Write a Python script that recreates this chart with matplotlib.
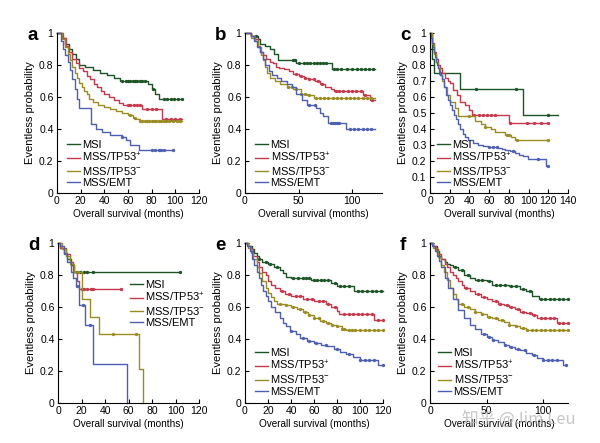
import matplotlib
matplotlib.use('Agg')
import matplotlib.pyplot as plt
from matplotlib.lines import Line2D
import numpy as np

plt.rcParams['font.family'] = ['Liberation Sans', 'DejaVu Sans']
plt.rcParams['mathtext.fontset'] = 'custom'
plt.rcParams['mathtext.rm'] = 'Liberation Sans'
plt.rcParams['mathtext.it'] = 'Liberation Sans:italic'
plt.rcParams['mathtext.bf'] = 'Liberation Sans:bold'

groups = ['MSI', 'MSS/TP53$^{+}$', 'MSS/TP53$^{-}$', 'MSS/EMT']
colors = ['#1c5426', '#c8374a', '#9b8c22', '#4c5fb4']

# --- panel a ---
a_msi_t = [0, 4, 7, 10, 13, 16, 19, 24, 30, 36, 42, 48, 53, 77, 80, 83, 86, 106]
a_msi_s = [1, 0.97, 0.93, 0.90, 0.87, 0.84, 0.80, 0.79, 0.77, 0.75, 0.74, 0.72, 0.70, 0.68, 0.65, 0.62, 0.59, 0.59]
a_msi_c = [55, 58, 60, 62, 64, 66, 68, 70, 72, 74, 81, 90, 93, 96, 99, 102, 106]
a_tp53p_t = [0, 5, 8, 10, 13, 16, 19, 22, 25, 28, 31, 34, 37, 40, 44, 48, 52, 56, 72, 89, 106]
a_tp53p_s = [1, 0.97, 0.92, 0.88, 0.84, 0.81, 0.78, 0.76, 0.73, 0.71, 0.68, 0.66, 0.64, 0.62, 0.60, 0.58, 0.565, 0.55, 0.525, 0.46, 0.46]
a_tp53p_c = [60, 62, 65, 68, 70, 76, 80, 84, 92, 96, 100, 104]
a_tp53n_t = [0, 4, 7, 9, 11, 13, 15, 17, 19, 21, 23, 25, 27, 30, 35, 40, 45, 50, 55, 60, 64, 67, 70, 106]
a_tp53n_s = [1, 0.96, 0.91, 0.87, 0.83, 0.79, 0.75, 0.72, 0.69, 0.66, 0.64, 0.62, 0.59, 0.57, 0.55, 0.54, 0.525, 0.51, 0.50, 0.485, 0.47, 0.46, 0.45, 0.45]
a_tp53n_c = [62, 66, 70, 72, 74, 76, 78, 80, 82, 84, 86, 88, 90, 92, 95, 98, 101, 104]
a_emt_t = [0, 3, 5, 7, 9, 11, 13, 15, 17, 19, 29, 33, 38, 45, 55, 58, 62, 69, 98]
a_emt_s = [1, 0.95, 0.90, 0.86, 0.82, 0.77, 0.71, 0.65, 0.59, 0.53, 0.43, 0.40, 0.38, 0.36, 0.35, 0.33, 0.30, 0.27, 0.27]
a_emt_c = [55, 80, 83, 86, 88, 90, 98]

# --- panel b ---
b_msi_t = [0, 6, 12, 14, 19, 23, 27, 31, 48, 81, 121]
b_msi_s = [1, 0.98, 0.96, 0.93, 0.92, 0.90, 0.87, 0.83, 0.815, 0.775, 0.775]
b_msi_c = [10, 45, 47, 50, 55, 58, 61, 64, 67, 70, 73, 76, 83, 86, 90, 95, 100, 105, 108, 112, 116, 120]
b_tp53p_t = [0, 6, 9, 12, 14, 17, 20, 23, 26, 29, 32, 36, 41, 45, 50, 55, 60, 65, 70, 75, 80, 83, 110, 117, 121]
b_tp53p_s = [1, 0.98, 0.96, 0.92, 0.88, 0.86, 0.84, 0.82, 0.81, 0.79, 0.78, 0.775, 0.76, 0.745, 0.73, 0.72, 0.71, 0.70, 0.68, 0.66, 0.65, 0.64, 0.61, 0.58, 0.58]
b_tp53p_c = [48, 52, 56, 60, 64, 68, 72, 85, 88, 92, 96, 100, 104, 108, 112, 119]
b_tp53n_t = [0, 6, 9, 12, 15, 17, 19, 21, 23, 28, 33, 39, 45, 52, 58, 64, 121]
b_tp53n_s = [1, 0.97, 0.95, 0.91, 0.86, 0.83, 0.79, 0.75, 0.72, 0.70, 0.68, 0.66, 0.65, 0.62, 0.61, 0.595, 0.595]
b_tp53n_c = [40, 44, 48, 52, 56, 60, 66, 70, 74, 78, 82, 86, 90, 94, 98, 102, 106, 110, 114, 118]
b_emt_t = [0, 6, 8, 11, 14, 17, 19, 22, 25, 30, 34, 39, 44, 48, 53, 58, 66, 70, 73, 78, 94, 121]
b_emt_s = [1, 0.98, 0.95, 0.91, 0.88, 0.84, 0.80, 0.76, 0.74, 0.72, 0.70, 0.68, 0.66, 0.62, 0.58, 0.55, 0.53, 0.50, 0.48, 0.44, 0.40, 0.40]
b_emt_c = [60, 65, 80, 82, 84, 86, 88, 98, 102, 106, 110, 114, 118]

# --- panel c ---
c_msi_t = [0, 2, 4, 30, 94, 130]
c_msi_s = [1, 0.84, 0.75, 0.65, 0.485, 0.485]
c_msi_c = [10, 47, 87, 120]
c_tp53p_t = [0, 2, 4, 6, 8, 10, 12, 15, 18, 20, 23, 27, 30, 35, 40, 43, 80, 120]
c_tp53p_s = [1, 0.94, 0.88, 0.84, 0.80, 0.78, 0.75, 0.72, 0.70, 0.69, 0.645, 0.615, 0.57, 0.55, 0.52, 0.49, 0.44, 0.44]
c_tp53p_c = [45, 50, 54, 58, 62, 66, 81, 98, 105, 113, 120]
c_tp53n_t = [0, 2, 4, 6, 8, 10, 12, 14, 17, 20, 25, 28, 46, 52, 56, 62, 66, 76, 82, 86, 120]
c_tp53n_s = [1, 0.93, 0.87, 0.82, 0.78, 0.74, 0.70, 0.66, 0.61, 0.57, 0.53, 0.48, 0.45, 0.43, 0.41, 0.40, 0.38, 0.36, 0.35, 0.33, 0.33]
c_tp53n_c = [40, 56, 78, 80, 88, 120]
c_emt_t = [0, 1, 2, 3, 4, 5, 6, 7, 8, 9, 10, 12, 14, 16, 18, 20, 22, 24, 26, 28, 30, 33, 36, 39, 44, 49,
           54, 59, 64, 69, 73, 76, 81, 86, 90, 94, 99.5, 118, 120]
c_emt_s = [1, 0.97, 0.94, 0.91, 0.88, 0.85, 0.82, 0.80, 0.78, 0.76, 0.74, 0.71, 0.66, 0.61, 0.58, 0.55, 0.52,
           0.49, 0.46, 0.43, 0.40, 0.37, 0.35, 0.33, 0.315, 0.30, 0.295, 0.29, 0.285, 0.28, 0.275, 0.27, 0.26,
           0.25, 0.24, 0.23, 0.21, 0.17, 0.17]
c_emt_c = [60, 64, 68, 84, 110, 120]

# --- panel d ---
d_msi_t = [0, 2, 5, 8, 11, 14, 104]
d_msi_s = [1, 0.97, 0.94, 0.90, 0.86, 0.82, 0.82]
d_msi_c = [16, 19, 22, 25, 30, 104]
d_tp53p_t = [0, 2, 7, 10, 13, 16, 18, 54]
d_tp53p_s = [1, 0.97, 0.93, 0.88, 0.82, 0.76, 0.71, 0.71]
d_tp53p_c = [20, 22, 25, 28, 30, 54]
d_tp53n_t = [0, 3, 7, 10, 14, 20, 27, 35, 69, 72]
d_tp53n_s = [1, 0.96, 0.92, 0.87, 0.82, 0.65, 0.54, 0.43, 0.215, 0]
d_tp53n_c = [17, 47, 66]
d_emt_t = [0, 2, 5, 8, 11, 13, 15, 18, 23, 30, 59]
d_emt_s = [1, 0.98, 0.93, 0.88, 0.82, 0.78, 0.73, 0.61, 0.49, 0.245, 0]
d_emt_c = [16, 21, 27]

# --- panel e ---
e_msi_t = [0, 3, 6, 8, 10, 12, 15, 20, 25, 30, 33, 36, 40, 57, 75, 80, 95, 120]
e_msi_s = [1, 0.98, 0.96, 0.94, 0.92, 0.90, 0.88, 0.87, 0.85, 0.83, 0.81, 0.79, 0.78, 0.77, 0.75, 0.73, 0.70, 0.70]
e_msi_c = [12, 18, 22, 28, 42, 46, 50, 53, 56, 60, 63, 66, 69, 72, 78, 83, 86, 90, 98, 102, 106, 110, 114, 118]
e_tp53p_t = [0, 3, 5, 7, 10, 12, 15, 18, 20, 23, 26, 30, 35, 40, 50, 60, 70, 75, 80, 82, 112, 120]
e_tp53p_s = [1, 0.98, 0.96, 0.92, 0.88, 0.85, 0.82, 0.80, 0.76, 0.74, 0.72, 0.70, 0.68, 0.67, 0.65, 0.635,
             0.62, 0.60, 0.575, 0.555, 0.52, 0.52]
e_tp53p_c = [32, 38, 44, 48, 54, 58, 64, 68, 72, 78, 86, 90, 94, 98, 102, 106, 110, 116, 120]
e_tp53n_t = [0, 3, 5, 7, 10, 12, 15, 18, 20, 23, 25, 28, 35, 40, 45, 50, 55, 60, 65, 70, 75, 80, 84, 88, 120]
e_tp53n_s = [1, 0.97, 0.94, 0.90, 0.85, 0.81, 0.76, 0.72, 0.69, 0.66, 0.64, 0.62, 0.61, 0.60, 0.585, 0.57,
             0.55, 0.53, 0.515, 0.50, 0.49, 0.48, 0.465, 0.455, 0.455]
e_tp53n_c = [30, 36, 42, 48, 52, 56, 60, 64, 68, 72, 76, 80, 84, 86, 90, 93, 96, 100, 104, 108, 112, 116, 120]
e_emt_t = [0, 2, 4, 6, 8, 10, 12, 14, 16, 18, 20, 23, 26, 30, 33, 36, 39, 44, 48, 54, 60, 66, 71, 77, 83, 88,
           94, 100, 116, 120]
e_emt_s = [1, 0.98, 0.95, 0.90, 0.86, 0.82, 0.78, 0.74, 0.70, 0.67, 0.64, 0.60, 0.57, 0.53, 0.50, 0.48, 0.45,
           0.43, 0.405, 0.39, 0.375, 0.365, 0.355, 0.34, 0.32, 0.305, 0.29, 0.27, 0.24, 0.24]
e_emt_c = [40, 50, 56, 62, 70, 80, 90, 100, 104, 108, 112, 120]

# --- panel f ---
f_msi_t = [0, 3, 6, 8, 10, 13, 15, 18, 20, 25, 30, 35, 40, 50, 55, 70, 80, 85, 90, 96, 122]
f_msi_s = [1, 0.98, 0.95, 0.92, 0.90, 0.88, 0.87, 0.86, 0.85, 0.83, 0.80, 0.78, 0.77, 0.76, 0.74, 0.73, 0.71,
           0.70, 0.67, 0.65, 0.65]
f_msi_c = [22, 28, 34, 42, 46, 52, 58, 62, 66, 72, 76, 82, 88, 98, 102, 106, 110, 114, 118, 122]
f_tp53p_t = [0, 3, 5, 7, 10, 13, 15, 18, 20, 23, 25, 28, 30, 35, 40, 45, 50, 55, 60, 65, 70, 75, 80, 85, 90,
             95, 112, 122]
f_tp53p_s = [1, 0.98, 0.96, 0.93, 0.90, 0.87, 0.85, 0.82, 0.80, 0.78, 0.76, 0.74, 0.72, 0.70, 0.68, 0.665,
             0.65, 0.635, 0.62, 0.61, 0.60, 0.585, 0.57, 0.56, 0.55, 0.53, 0.50, 0.50]
f_tp53p_c = [32, 42, 48, 58, 62, 68, 72, 78, 82, 88, 92, 98, 102, 106, 110, 114, 118, 122]
f_tp53n_t = [0, 3, 5, 7, 10, 12, 15, 18, 20, 23, 25, 30, 35, 40, 45, 50, 55, 60, 65, 70, 75, 80, 85, 122]
f_tp53n_s = [1, 0.97, 0.95, 0.91, 0.86, 0.82, 0.77, 0.72, 0.68, 0.65, 0.62, 0.60, 0.585, 0.57, 0.555, 0.54,
             0.53, 0.52, 0.505, 0.49, 0.48, 0.47, 0.458, 0.458]
f_tp53n_c = [28, 34, 40, 46, 52, 58, 64, 70, 76, 82, 86, 90, 94, 98, 102, 106, 110, 114, 118, 122]
f_emt_t = [0, 2, 4, 6, 8, 10, 13, 16, 20, 25, 30, 35, 40, 45, 50, 55, 60, 65, 70, 75, 80, 85, 90, 95, 100,
           118, 120]
f_emt_s = [1, 0.98, 0.95, 0.92, 0.89, 0.85, 0.78, 0.72, 0.65, 0.58, 0.53, 0.49, 0.46, 0.43, 0.41, 0.395,
           0.38, 0.365, 0.35, 0.34, 0.33, 0.31, 0.30, 0.28, 0.27, 0.24, 0.24]
f_emt_c = [48, 52, 56, 66, 72, 78, 84, 92, 100, 104, 108, 112, 120]


def km(ax, t, s, c, color):
    """step curve plus censor dots"""
    t = np.asarray(t, float)
    s = np.asarray(s, float)
    ax.step(t, s, where='post', color=color, lw=1, clip_on=False)
    c = np.asarray(c, float)
    idx = np.searchsorted(t, c, side='right') - 1
    ax.plot(c, s[idx], 'o', color=color, ms=2.4, mew=0, clip_on=False)


def panel(fig, px, letter, curves, xmax, xticks, yticks, leg):
    left, top, w, h = px
    ax = fig.add_axes([left / 600., 1 - (top + h) / 443., w / 600., h / 443.])
    for (t, s, c), col in zip(curves, colors):
        km(ax, t, s, c, col)
    ax.set_xlim(0, xmax)
    ax.set_ylim(0, 1)
    ax.set_xticks(xticks)
    ax.set_yticks(yticks)
    ax.set_yticklabels(['%g' % v for v in yticks])
    for sp in ['top', 'right']:
        ax.spines[sp].set_visible(False)
    for sp in ['left', 'bottom']:
        ax.spines[sp].set_linewidth(0.8)
    ax.tick_params(direction='in', length=3, width=0.8, labelsize=7.5, pad=2.5)
    ax.set_xlabel('Overall survival (months)', fontsize=7.2, labelpad=2)
    ax.set_ylabel('Eventless probability', fontsize=8, labelpad=3)
    handles = [Line2D([], [], color=col, lw=1) for col in colors]
    loc, anchor = leg
    ax.legend(handles, groups, loc=loc, bbox_to_anchor=anchor, frameon=False,
              fontsize=8, handlelength=1.15, handletextpad=0.25, labelspacing=0.1,
              borderaxespad=0, borderpad=0)
    fig.text((left - 30) / 600., 1 - (top - 6) / 443., letter, fontsize=13.5,
             fontweight='bold', va='top', ha='left')
    return ax


fig = plt.figure(figsize=(6, 4.43), dpi=100)

y10 = [0, 0.2, 0.4, 0.6, 0.8, 1]
y20 = [0, 0.1, 0.2, 0.3, 0.4, 0.5, 0.6, 0.7, 0.8, 0.9, 1]

panel(fig, (57, 33, 142, 160), 'a',
      [(a_msi_t, a_msi_s, a_msi_c), (a_tp53p_t, a_tp53p_s, a_tp53p_c),
       (a_tp53n_t, a_tp53n_s, a_tp53n_c), (a_emt_t, a_emt_s, a_emt_c)],
      120, [0, 20, 40, 60, 80, 100, 120], y10, ('lower left', (0.07, 0.03)))
panel(fig, (245, 33, 137, 160), 'b',
      [(b_msi_t, b_msi_s, b_msi_c), (b_tp53p_t, b_tp53p_s, b_tp53p_c),
       (b_tp53n_t, b_tp53n_s, b_tp53n_c), (b_emt_t, b_emt_s, b_emt_c)],
      128, [0, 50, 100], y10, ('lower left', (0.073, 0.03)))
panel(fig, (430, 33, 138, 160), 'c',
      [(c_msi_t, c_msi_s, c_msi_c), (c_tp53p_t, c_tp53p_s, c_tp53p_c),
       (c_tp53n_t, c_tp53n_s, c_tp53n_c), (c_emt_t, c_emt_s, c_emt_c)],
      140, [0, 20, 40, 60, 80, 100, 120, 140], y20, ('lower left', (0.05, 0.03)))
panel(fig, (58, 243, 141, 160), 'd',
      [(d_msi_t, d_msi_s, d_msi_c), (d_tp53p_t, d_tp53p_s, d_tp53p_c),
       (d_tp53n_t, d_tp53n_s, d_tp53n_c), (d_emt_t, d_emt_s, d_emt_c)],
      120, [0, 20, 40, 60, 80, 100, 120], y10, ('upper left', (0.51, 0.77)))
panel(fig, (245, 243, 138, 160), 'e',
      [(e_msi_t, e_msi_s, e_msi_c), (e_tp53p_t, e_tp53p_s, e_tp53p_c),
       (e_tp53n_t, e_tp53n_s, e_tp53n_c), (e_emt_t, e_emt_s, e_emt_c)],
      120, [0, 20, 40, 60, 80, 100, 120], y10, ('lower left', (0.072, 0.04)))
panel(fig, (430, 243, 138, 160), 'f',
      [(f_msi_t, f_msi_s, f_msi_c), (f_tp53p_t, f_tp53p_s, f_tp53p_c),
       (f_tp53n_t, f_tp53n_s, f_tp53n_c), (f_emt_t, f_emt_s, f_emt_c)],
      122, [0, 50, 100], y10, ('lower left', (0.058, 0.04)))

# watermark
fig.text(462 / 600., 1 - 419 / 443., '知乎 @Jim Leu', fontsize=12, color='#b8b8b8',
         alpha=0.8, family=['Noto Sans CJK SC', 'DejaVu Sans'], va='center', ha='left')

fig.savefig('out.png', dpi=100)
